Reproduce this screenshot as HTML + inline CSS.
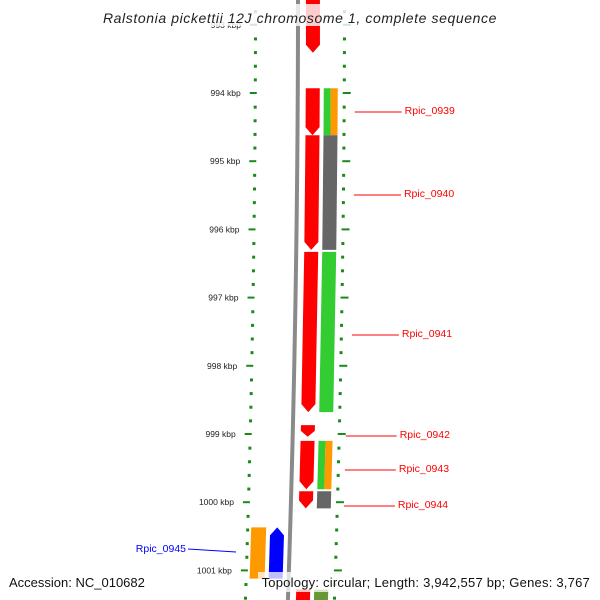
<!DOCTYPE html>
<html><head><meta charset="utf-8"><style>
html,body{margin:0;padding:0;background:#fff;overflow:hidden;width:600px;height:600px}
svg{display:block;overflow:hidden}
text{font-family:"Liberation Sans","DejaVu Sans",sans-serif}
</style></head><body>
<svg id="map" width="600" height="600" viewBox="0 0 600 600" xmlns="http://www.w3.org/2000/svg">
<g id="layer"></g>
</svg>
<script>
// kbp positions; y = 93 + (kbp-994)*PX
const tickKbp = [993, 994, 995, 996, 997, 998, 999, 1000, 1001];
const geneNames = ["Rpic_0938","Rpic_0939","Rpic_0940","Rpic_0941","Rpic_0942","Rpic_0943","Rpic_0944","Rpic_0945","Rpic_0946"];
const geneStart = [992.0, 993.93, 994.62, 996.33, 998.87, 999.10, 999.84, 1000.37, 1001.28];
const geneEnd   = [993.41, 994.62, 996.30, 998.68, 999.04, 999.81, 1000.09, 1001.12, 1001.6];
const geneStrand = [1, 1, 1, 1, 1, 1, 1, -1, 1];
const cogColor  = [null, "#33cc33|#ff9900", "#666666", "#33cc33", null, "#33cc33|#ff9900", "#666666", "#ff9900", "#669933"];
const labelShown = [false, true, true, true, true, true, true, true, false];
const labelY = [0, 110, 193, 333, 434, 468, 504, 548, 0];

const PX = 68.2;
const NS = "http://www.w3.org/2000/svg";
const layer = document.getElementById('layer');
function yOf(k){ return 93 + (k-994)*PX; }
function dx(y){ return -2.8e-5*y*y; }
function el(tag, attrs){ const e=document.createElementNS(NS,tag); for(const k in attrs) e.setAttribute(k,attrs[k]); layer.appendChild(e); return e; }
function band(x0,x1,y0,y1,fill,arrow,op){
  const a=Math.min(8,(y1-y0)*0.5); let pts;
  const L=y=>x0+dx(y), R=y=>x1+dx(y), M=y=>(x0+x1)/2+dx(y);
  if(arrow===1) pts=[[L(y0),y0],[R(y0),y0],[R(y1-a),y1-a],[M(y1),y1],[L(y1-a),y1-a]];
  else if(arrow===-1) pts=[[M(y0),y0],[R(y0+a),y0+a],[R(y1),y1],[L(y1),y1],[L(y0+a),y0+a]];
  else pts=[[L(y0),y0],[R(y0),y0],[R(y1),y1],[L(y1),y1]];
  return el('polygon',{points:pts.map(p=>p.join(',')).join(' '),fill:fill,'fill-opacity':op||1});
}
// backbone
const bpts=[]; for(let y=0;y<=600;y+=20) bpts.push((298+dx(y))+','+y);
const bb=el('polyline',{points:bpts.join(' '),fill:'none',stroke:'#8a8a8a','stroke-width':4});


// ticks
for(let k=992.8;k<=1001.6;k+=0.2){
  const kk=Math.round(k*10)/10, y=yOf(kk); if(y<0||y>600) continue;
  const major=Math.abs(kk-Math.round(kk))<0.01;
  const lt=el('rect',{x:(major?250:254)+dx(y),y:y-1,width:major?7:3,height:major?2:3,fill:'#1a8a1a'});
  
  
  const rt=el('rect',{x:343+dx(y),y:y-1,width:major?8:3,height:major?2:3,fill:'#1a8a1a'});
  
  
}
tickKbp.forEach(k=>{
  const y=yOf(k);
  const t=el('text',{x:241+dx(y),y:y+3,'font-size':8.5,'text-anchor':'end',fill:'#222'});
  t.textContent=k+' kbp';
  
  
});
// genes
geneNames.forEach((n,i)=>{
  const y0=yOf(geneStart[i]), y1=yOf(geneEnd[i]);
  let cds;
  if(geneStrand[i]===1) cds=band(306,320,y0,y1,'#ff0000',1);
  else cds=band(278,292,y0,y1,'#0000ff',-1);
  
  
  const c=cogColor[i];
  if(c){
    const cols=c.split('|');
    const [xa,xb]=geneStrand[i]===1?[324,338]:[259,274];
    const w=(xb-xa)/cols.length;
    cols.forEach((col,j)=>{
      const r=band(xa+j*w,xa+(j+1)*w,y0,y1,col,0);
      
      
    });
  }
  if(labelShown[i]){
    const ly=labelY[i];
    if(geneStrand[i]===1){
      const lx=355+dx(ly)+ (ly>420?-4:0);
      const ln=el('line',{x1:lx,y1:ly+2,x2:402+dx(ly),y2:ly+2,stroke:'#ff0000','stroke-width':1});
      
      
      const t=el('text',{x:405+dx(ly),y:ly+4,'font-size':10.5,fill:'#ff0000'});
      t.textContent=n;
      
      
    } else {
      const ln=el('line',{x1:188,y1:ly+1,x2:236,y2:ly+4,stroke:'#0000ff','stroke-width':1});
      
      
      const t=el('text',{x:186,y:ly+4,'font-size':10.5,fill:'#0000ff','text-anchor':'end'});
      t.textContent=n;
      
      
    }
  }
});
// title & footer with translucent backgrounds
const tb=el('rect',{x:100,y:4,width:400,height:22,fill:'#fff','fill-opacity':0.8});


const title=el('text',{x:300,y:23,'font-size':14,'font-style':'italic','text-anchor':'middle',fill:'#222','letter-spacing':0.6});
title.textContent='Ralstonia pickettii 12J chromosome 1, complete sequence';


const fb=el('rect',{x:258,y:572,width:338,height:20,fill:'#fff','fill-opacity':0.75});


const acc=el('text',{x:9,y:587,'font-size':13,fill:'#111'});
acc.textContent='Accession: NC_010682';


const topo=el('text',{x:590,y:587,'font-size':13,fill:'#111','text-anchor':'end','letter-spacing':0.22});
topo.textContent='Topology: circular; Length: 3,942,557 bp; Genes: 3,767';


</script>
</body></html>
